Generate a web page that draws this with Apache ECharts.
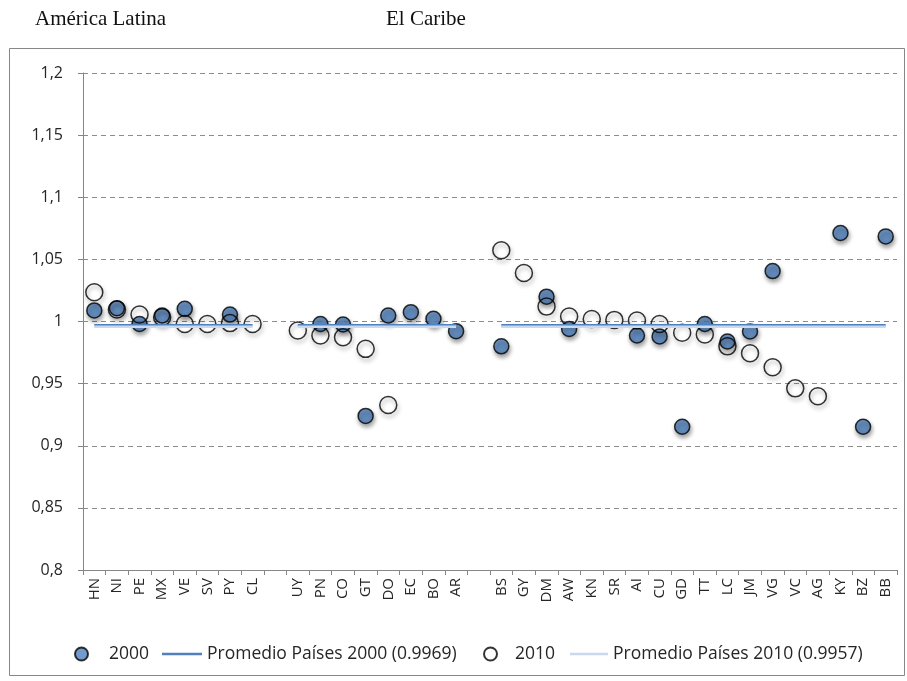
<!DOCTYPE html>
<html>
<head>
<meta charset="utf-8">
<script src="https://cdn.jsdelivr.net/npm/echarts@6/dist/echarts.min.js"></script>
<style>
  html, body { margin: 0; padding: 0; background: #ffffff; }
  #chart { width: 907px; height: 681px; }
</style>
</head>
<body>
<div id="chart"></div>
<script>
// Country codes; empty strings leave a gap between the three groups
const categories = ['HN','NI','PE','MX','VE','SV','PY','CL','',
                    'UY','PN','CO','GT','DO','EC','BO','AR','',
                    'BS','GY','DM','AW','KN','SR','AI','CU','GD','TT','LC','JM','VG','VC','AG','KY','BZ','BB'];

const values2000 = [1.0089, 1.0107, 0.998, 1.0048, 1.0102, null, 1.0056, null, null,
                    null, 0.998, 0.9976, 0.924, 1.0048, 1.0075, 1.0022, 0.9922, null,
                    0.980, null, 1.020, 0.994, null, null, 0.9887, 0.988, 0.9153, 0.998, 0.9839, 0.992, 1.0406, null, null, 1.0712, 0.9153, 1.0685];

const values2010 = [1.0236, 1.0097, 1.0056, 1.0035, 0.998, 0.998, 0.9987, 0.998, null,
                    0.9927, 0.9887, 0.9873, 0.978, 0.9328, null, null, null, null,
                    1.0573, 1.039, 1.012, 1.004, 1.002, 1.0013, 1.0008, 0.998, 0.9909, 0.9895, 0.980, 0.9745, 0.9632, 0.9462, 0.9398, null, null, null];

const avg2000 = 0.9969;
const avg2010 = 0.9957;

const seriesNames = ['2000', 'Promedio Países 2000 (0.9969)', '2010', 'Promedio Países 2010 (0.9957)'];
const groupTitles = ['América Latina', 'El Caribe'];

const yTicks = { min: 0.8, max: 1.2, step: 0.05 };

const toData = arr => arr.map(v => (v === null ? '-' : v));
const avgLine = v => categories.map(c => (c ? v : '-'));

const BLUE = '#4F81BD';
const PALE = '#C9DAF0';
const FONT = '"Open Sans", "Noto Sans", sans-serif';
const TEXT = '#262626';

const chart = echarts.init(document.getElementById('chart'), null, { renderer: 'canvas' });

const markerShadow = {
  shadowColor: 'rgba(0,0,0,0.45)',
  shadowBlur: 4,
  shadowOffsetX: 1,
  shadowOffsetY: 3
};

const legendText = pad => ({ fontFamily: FONT, fontSize: 17.5, color: TEXT, padding: [0, 0, 0, pad] });

chart.setOption({
  animation: false,
  backgroundColor: '#ffffff',
  graphic: [
    {
      type: 'rect', silent: true, z: -10,
      shape: { x: 9.5, y: 48.5, width: 895, height: 627 },
      style: { fill: 'none', stroke: '#878787', lineWidth: 1 }
    },
    {
      type: 'text', left: 35, top: 9,
      style: { text: groupTitles[0], fill: '#111', font: '21px "Liberation Serif", serif' }
    },
    {
      type: 'text', left: 386, top: 9,
      style: { text: groupTitles[1], fill: '#111', font: '21px "Liberation Serif", serif' }
    }
  ],
  grid: { left: 83, right: 10, top: 73, bottom: 111 },
  xAxis: {
    type: 'category',
    data: categories,
    boundaryGap: true,
    axisLine: { lineStyle: { color: '#868686', width: 1 } },
    axisTick: { show: true, interval: 0, length: 5, lineStyle: { color: '#868686' } },
    axisLabel: {
      interval: 0, rotate: 90, margin: 8,
      fontFamily: FONT, fontSize: 15, color: TEXT
    },
    splitLine: { show: false }
  },
  yAxis: {
    type: 'value',
    min: yTicks.min, max: yTicks.max, interval: yTicks.step,
    axisLine: { show: true, lineStyle: { color: '#868686', width: 1 } },
    axisTick: { show: true, length: 5, lineStyle: { color: '#868686' } },
    axisLabel: {
      margin: 20, fontFamily: FONT, fontSize: 16, color: TEXT,
      formatter: v => String(parseFloat(v.toFixed(2))).replace('.', ',')
    },
    splitLine: { show: true, lineStyle: { color: '#8c8c8c', width: 1, type: [5, 4] } }
  },
  legend: [
    {
      data: [seriesNames[0]], left: 74, top: 645, padding: 0, icon: 'circle',
      itemWidth: 13, itemHeight: 13, itemGap: 0,
      textStyle: legendText(16)
    },
    {
      data: [seriesNames[1]], left: 162, top: 645, padding: 0, icon: 'rect',
      itemWidth: 40, itemHeight: 2.5, itemGap: 0,
      textStyle: legendText(0)
    },
    {
      data: [seriesNames[2]], left: 483, top: 645, padding: 0, icon: 'circle',
      itemWidth: 13, itemHeight: 13, itemGap: 0,
      textStyle: legendText(13)
    },
    {
      data: [seriesNames[3]], left: 570, top: 645, padding: 0, icon: 'rect',
      itemWidth: 38, itemHeight: 2.5, itemGap: 0,
      textStyle: legendText(0)
    }
  ],
  series: [
    {
      name: seriesNames[0],
      type: 'scatter',
      data: toData(values2000),
      symbol: 'circle',
      symbolSize: 15,
      z: 3,
      itemStyle: Object.assign({ color: BLUE, borderColor: '#000', borderWidth: 1.5 }, markerShadow)
    },
    {
      name: seriesNames[1],
      type: 'line',
      data: avgLine(avg2000),
      symbol: 'none',
      connectNulls: false,
      z: 5,
      itemStyle: { color: BLUE },
      lineStyle: { color: BLUE, width: 2.5 }
    },
    {
      name: seriesNames[2],
      type: 'scatter',
      data: toData(values2010),
      symbol: 'circle',
      symbolSize: 17,
      z: 4,
      itemStyle: Object.assign({ color: 'rgba(255,255,255,0)', borderColor: '#000', borderWidth: 1.5 }, markerShadow)
    },
    {
      name: seriesNames[3],
      type: 'line',
      data: avgLine(avg2010),
      symbol: 'none',
      connectNulls: false,
      z: 6,
      itemStyle: { color: PALE },
      lineStyle: { color: PALE, width: 2.5 }
    }
  ]
});
</script>
</body>
</html>
